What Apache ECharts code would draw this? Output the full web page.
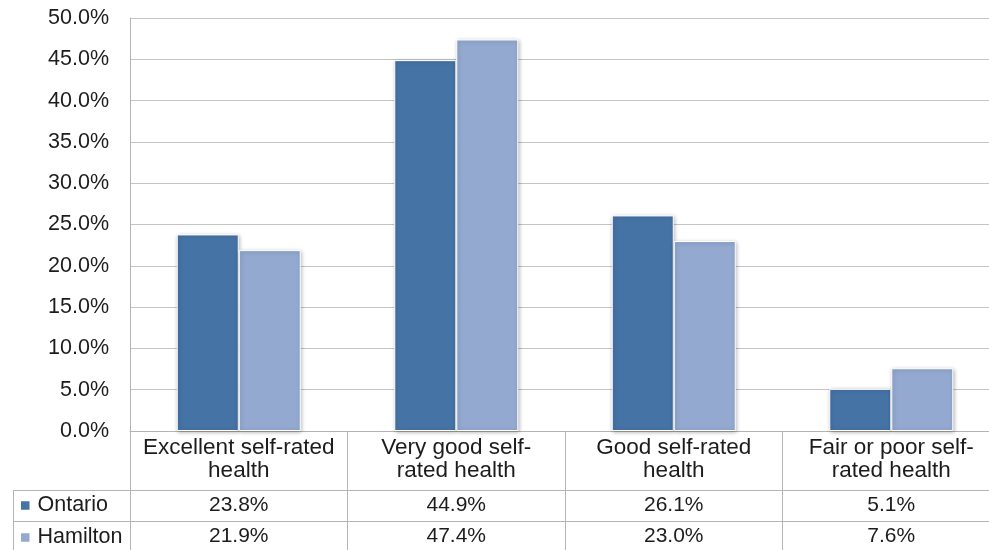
<!DOCTYPE html>
<html>
<head>
<meta charset="utf-8">
<script src="https://cdn.jsdelivr.net/npm/echarts@6/dist/echarts.min.js"></script>
<style>
  html, body { margin: 0; padding: 0; background: #fff; overflow: hidden; }
  #chart { width: 1000px; height: 550px; }
</style>
</head>
<body>
<div id="chart"></div>
<script>
// Self-rated health, Ontario vs Hamilton (percent of population)
const categories = [
  'Excellent self-rated\nhealth',
  'Very good self-\nrated health',
  'Good self-rated\nhealth',
  'Fair or poor self-\nrated health'
];
const seriesNames = ['Ontario', 'Hamilton'];
const ontario = [23.8, 44.9, 26.1, 5.1];
const hamilton = [21.9, 47.4, 23.0, 7.6];
const yTicks = { min: 0, max: 50, interval: 5 };

const FONT = 'Liberation Sans, Arial, sans-serif';
const TEXT = '#1c1c1c';
const LINE = '#b4b4b4';
const colors = ['#4673a6', '#93a9d0'];

const chart = echarts.init(document.getElementById('chart'), null, { renderer: 'canvas' });

const pct = v => v.toFixed(1) + '%';

// table rows below the plot are extra category axes sharing the grid
function tableAxis(values, offset) {
  return {
    type: 'category',
    data: categories,
    position: 'bottom',
    offset: offset,
    axisLine: { show: true, lineStyle: { color: LINE, width: 1 } },
    axisTick: { show: false },
    axisLabel: {
      interval: 0,
      margin: 6,
      fontFamily: FONT,
      fontSize: 21,
      lineHeight: 19,
      color: TEXT,
      formatter: (val, idx) => pct(values[idx])
    }
  };
}

chart.setOption({
  animation: false,
  color: colors,
  grid: { left: 130, top: 18, width: 870, height: 413, containLabel: false },
  legend: {
    data: seriesNames,
    orient: 'vertical',
    left: 21,
    top: 494.5,
    padding: 0,
    itemWidth: 8.5,
    itemHeight: 8.5,
    itemGap: 10,
    icon: 'rect',
    selectedMode: false,
    itemStyle: { borderWidth: 0, shadowBlur: 0, shadowOffsetX: 0, shadowOffsetY: 0 },
    textStyle: { fontFamily: FONT, fontSize: 21.5, lineHeight: 21, color: TEXT, padding: [0, 0, 0, 3] }
  },
  xAxis: [
    {
      type: 'category',
      data: categories,
      axisLine: { show: true, lineStyle: { color: LINE, width: 1 } },
      axisTick: { show: true, interval: 0, length: 120, lineStyle: { color: LINE, width: 1 } },
      axisLabel: {
        interval: 0,
        margin: 5.5,
        fontFamily: FONT,
        fontSize: 22.5,
        lineHeight: 23,
        color: TEXT,
        align: 'center'
      }
    },
    tableAxis(ontario, 59),
    tableAxis(hamilton, 90)
  ],
  yAxis: {
    type: 'value',
    min: yTicks.min,
    max: yTicks.max,
    interval: yTicks.interval,
    axisLine: { show: true, lineStyle: { color: LINE, width: 1 } },
    axisTick: { show: false },
    splitLine: { show: true, lineStyle: { color: '#c4c4c4', width: 1 } },
    axisLabel: {
      margin: 21,
      fontFamily: FONT,
      fontSize: 21.5,
      color: TEXT,
      formatter: v => v.toFixed(1) + '%'
    }
  },
  series: [ontario, hamilton].map((vals, i) => ({
    name: seriesNames[i],
    type: 'bar',
    data: vals,
    barWidth: 62,
    barGap: '0%',
    itemStyle: {
      color: colors[i],
      borderColor: '#ffffff',
      borderWidth: 1,
      shadowColor: 'rgba(0,0,0,0.28)',
      shadowBlur: 4,
      shadowOffsetX: 1,
      shadowOffsetY: 1
    }
  })),
  // left frame of the data table around the series keys
  graphic: [
    { type: 'line', shape: { x1: 13, y1: 490.5, x2: 130, y2: 490.5 }, style: { stroke: LINE, lineWidth: 1 } },
    { type: 'line', shape: { x1: 13, y1: 521.5, x2: 130, y2: 521.5 }, style: { stroke: LINE, lineWidth: 1 } },
    { type: 'line', shape: { x1: 13.5, y1: 490, x2: 13.5, y2: 550 }, style: { stroke: LINE, lineWidth: 1 } }
  ]
});
</script>
</body>
</html>
